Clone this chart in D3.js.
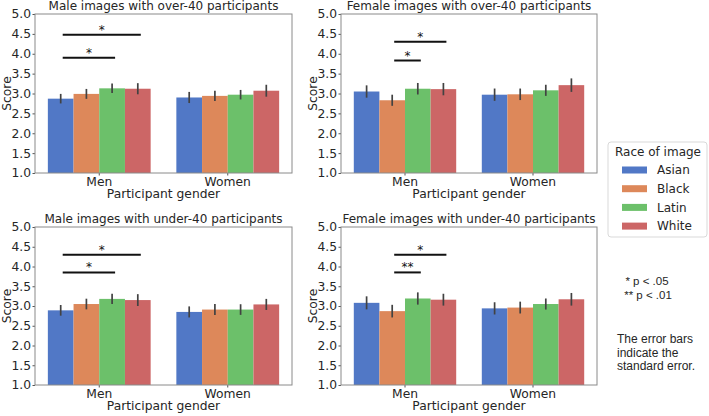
<!DOCTYPE html>
<html lang="en">
<head>
<meta charset="utf-8">
<title>Scores by race of image</title>
<script src="https://d3js.org/d3.v7.min.js"></script>
<style>
body { margin: 0; background: #fff; }
text { font-family: "DejaVu Sans", sans-serif; fill: #262626; }
.note { font-family: "Liberation Sans", Arial, sans-serif; }
</style>
</head>
<body>
<div id="chart"></div>
<script>
// categories
var races = ["Asian", "Black", "Latin", "White"];
var genders = ["Men", "Women"];
var yTicks = [1.0, 1.5, 2.0, 2.5, 3.0, 3.5, 4.0, 4.5, 5.0];

// panel titles
var titles = [
  "Male images with over-40 participants",
  "Female images with over-40 participants",
  "Male images with under-40 participants",
  "Female images with under-40 participants"
];

// mean scores: [Men row, Women row], each row in race order
var maleOver40 = [[2.87, 2.99, 3.13, 3.12], [2.90, 2.94, 2.97, 3.07]];
var femaleOver40 = [[3.05, 2.83, 3.12, 3.11], [2.97, 2.98, 3.08, 3.21]];
var maleUnder40 = [[2.89, 3.05, 3.18, 3.15], [2.85, 2.91, 2.91, 3.04]];
var femaleUnder40 = [[3.08, 2.87, 3.19, 3.16], [2.94, 2.96, 3.05, 3.17]];

// standard errors, same layout
var maleOver40Err = [[0.12, 0.125, 0.12, 0.14], [0.14, 0.13, 0.12, 0.15]];
var femaleOver40Err = [[0.155, 0.14, 0.145, 0.155], [0.155, 0.145, 0.14, 0.17]];
var maleUnder40Err = [[0.135, 0.135, 0.13, 0.15], [0.14, 0.14, 0.135, 0.14]];
var femaleUnder40Err = [[0.165, 0.16, 0.155, 0.15], [0.155, 0.15, 0.14, 0.16]];

// significance brackets (within the "Men" group): from race, to race, y level, label
var maleOver40Sig = [["Asian", "White", 4.48, "*"], ["Asian", "Latin", 3.90, "*"]];
var femaleOver40Sig = [["Black", "White", 4.30, "*"], ["Black", "Latin", 3.83, "*"]];
var maleUnder40Sig = [["Asian", "White", 4.30, "*"], ["Asian", "Latin", 3.85, "*"]];
var femaleUnder40Sig = [["Black", "White", 4.30, "*"], ["Black", "Latin", 3.85, "**"]];

var means = [maleOver40, femaleOver40, maleUnder40, femaleUnder40];
var errs = [maleOver40Err, femaleOver40Err, maleUnder40Err, femaleUnder40Err];
var sigs = [maleOver40Sig, femaleOver40Sig, maleUnder40Sig, femaleUnder40Sig];

var colors = ["#5178c6", "#dd885a", "#6cc06a", "#cc6666"];
var color = d3.scaleOrdinal().domain(races).range(colors);

var W = 709, H = 416;
var svg = d3.select("#chart").append("svg")
  .attr("width", W)
  .attr("height", H);

// plot areas for the 4 panels
var boxes = [
  {x0: 35, x1: 292, y0: 14, y1: 173},
  {x0: 341, x1: 597, y0: 14, y1: 173},
  {x0: 35, x1: 292, y0: 227, y1: 385},
  {x0: 341, x1: 597, y0: 227, y1: 385}
];

boxes.forEach(function(b, p) {
  var w = b.x1 - b.x0, h = b.y1 - b.y0;
  var g = svg.append("g").attr("transform", "translate(" + b.x0 + "," + b.y0 + ")");

  var x = d3.scaleBand().domain(genders).range([0, w]).paddingInner(0.2).paddingOuter(0.1);
  var xs = d3.scaleBand().domain(races).range([0, x.bandwidth()]);
  var y = d3.scaleLinear().domain([1, 5]).range([h, 0]);

  var rows = [];
  genders.forEach(function(gd, gi) {
    races.forEach(function(r, ri) {
      rows.push({gender: gd, race: r, value: means[p][gi][ri], err: errs[p][gi][ri]});
    });
  });

  // bars
  g.selectAll("rect.bar").data(rows).enter().append("rect")
    .attr("class", "bar")
    .attr("x", function(d) { return x(d.gender) + xs(d.race); })
    .attr("y", function(d) { return y(d.value); })
    .attr("width", xs.bandwidth())
    .attr("height", function(d) { return h - y(d.value); })
    .attr("fill", function(d) { return color(d.race); });

  // error bars
  g.selectAll("line.err").data(rows).enter().append("line")
    .attr("x1", function(d) { return x(d.gender) + xs(d.race) + xs.bandwidth() / 2; })
    .attr("x2", function(d) { return x(d.gender) + xs(d.race) + xs.bandwidth() / 2; })
    .attr("y1", function(d) { return y(d.value - d.err); })
    .attr("y2", function(d) { return y(d.value + d.err); })
    .attr("stroke", "#424242")
    .attr("stroke-width", 1.7);

  // significance lines
  var cx = function(r) { return x("Men") + xs(r) + xs.bandwidth() / 2; };
  sigs[p].forEach(function(s) {
    g.append("line")
      .attr("x1", cx(s[0]) + 2).attr("x2", cx(s[1]) + 3)
      .attr("y1", y(s[2])).attr("y2", y(s[2]))
      .attr("stroke", "#111").attr("stroke-width", 2);
    g.append("text")
      .attr("x", (cx(s[0]) + cx(s[1])) / 2 + 2.5)
      .attr("y", y(s[2]) - 1)
      .attr("text-anchor", "middle")
      .style("font-size", "12px")
      .style("fill", "#111")
      .text(s[3]);
  });

  // axes
  var yAxis = g.append("g").call(d3.axisLeft(y).tickValues(yTicks).tickFormat(d3.format(".1f")).tickSize(2.5).tickPadding(1.5));
  yAxis.selectAll("text").style("font-size", "12.3px").attr("fill", "#262626");
  yAxis.selectAll("line").attr("stroke", "#555");
  yAxis.select(".domain").remove();

  var xAxis = g.append("g").attr("transform", "translate(0," + h + ")")
    .call(d3.axisBottom(x).tickSize(2.5).tickPadding(2));
  xAxis.selectAll("text").style("font-size", "12.3px").attr("fill", "#262626");
  xAxis.selectAll("line").attr("stroke", "#555");
  xAxis.select(".domain").remove();

  // frame
  g.append("rect")
    .attr("width", w).attr("height", h)
    .attr("fill", "none").attr("stroke", "#8a8a8a").attr("stroke-width", 1);

  // labels
  g.append("text")
    .attr("x", w / 2).attr("y", -4)
    .attr("text-anchor", "middle")
    .style("font-size", "12px")
    .text(titles[p]);

  g.append("text")
    .attr("x", w / 2).attr("y", h + 25)
    .attr("text-anchor", "middle")
    .style("font-size", "12.3px")
    .text("Participant gender");

  g.append("text")
    .attr("transform", "rotate(-90)")
    .attr("x", -h / 2).attr("y", -24)
    .attr("text-anchor", "middle")
    .style("font-size", "12.3px")
    .text("Score");
});

// legend
var leg = svg.append("g").attr("transform", "translate(608,142)");
leg.append("rect")
  .attr("width", 99).attr("height", 95).attr("rx", 3)
  .attr("fill", "#fff").attr("stroke", "#d9d9d9");
leg.append("text")
  .attr("x", 50).attr("y", 14)
  .attr("text-anchor", "middle")
  .style("font-size", "12px")
  .text("Race of image");
var item = leg.selectAll("g.item").data(races).enter().append("g")
  .attr("transform", function(d, i) { return "translate(0," + (28 + i * 18.7) + ")"; });
item.append("rect")
  .attr("x", 14).attr("y", -3.5).attr("width", 25).attr("height", 7)
  .attr("fill", function(d) { return color(d); });
item.append("text")
  .attr("x", 49).attr("y", 4.3)
  .style("font-size", "12px")
  .text(function(d) { return d; });

// notes
var notes = svg.append("g").attr("class", "notes");
notes.append("text").attr("class", "note")
  .attr("x", 647).attr("y", 285).attr("text-anchor", "middle")
  .style("font-size", "11.5px").text("* p < .05");
notes.append("text").attr("class", "note")
  .attr("x", 648).attr("y", 298.5).attr("text-anchor", "middle")
  .style("font-size", "11.5px").text("** p < .01");
["The error bars", "indicate the", "standard error."].forEach(function(t, i) {
  notes.append("text").attr("class", "note")
    .attr("x", 617).attr("y", 343 + i * 13.5)
    .style("font-size", "12px").text(t);
});
</script>
</body>
</html>
